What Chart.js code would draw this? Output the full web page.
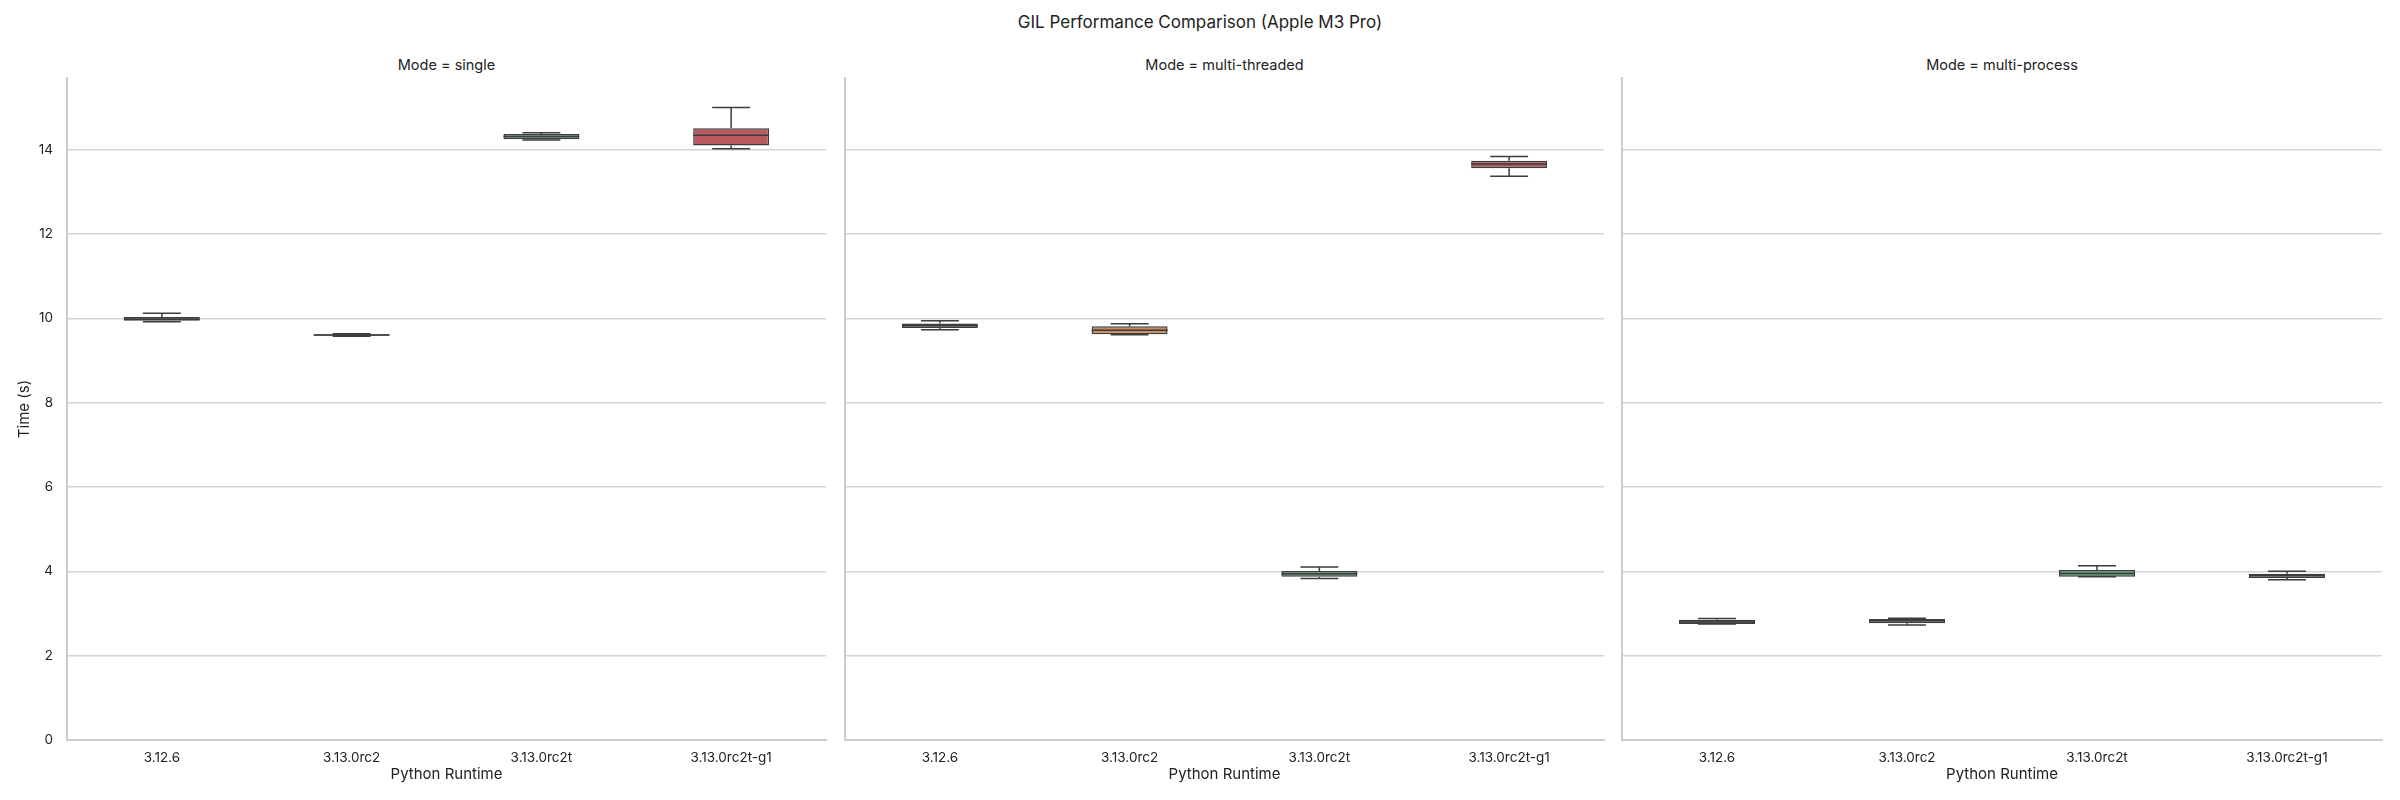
<!DOCTYPE html>
<html>
<head>
<meta charset="utf-8">
<script src="https://cdn.jsdelivr.net/npm/chart.js@4"></script>
<style>
  body { margin: 0; width: 2400px; height: 800px; position: relative; background: #fff; font-family: Inter, "Liberation Sans", sans-serif; color: #222; }
  .panel { position: absolute; top: 0; height: 800px; }
  .label { position: absolute; text-align: center; color: #222; white-space: nowrap; }
</style>
</head>
<body>
<div class="label" style="left:0;top:12px;width:2400px;font-size:17px;">GIL Performance Comparison (Apple M3 Pro)</div>
<div class="label" style="left:67px;top:56px;width:759px;font-size:14.5px;">Mode = single</div>
<div class="label" style="left:845px;top:56px;width:759px;font-size:14.5px;">Mode = multi-threaded</div>
<div class="label" style="left:1622px;top:56px;width:760px;font-size:14.5px;">Mode = multi-process</div>
<div class="panel" style="left:0;width:835px;"><canvas id="single"></canvas></div>
<div class="panel" style="left:835px;width:778px;"><canvas id="threaded"></canvas></div>
<div class="panel" style="left:1612px;width:779px;"><canvas id="process"></canvas></div>
<script>
const runtimes = ['3.12.6', '3.13.0rc2', '3.13.0rc2t', '3.13.0rc2t-g1'];
const yTicks = [0, 2, 4, 6, 8, 10, 12, 14];

// box stats per mode: whisker low, q1, median, q3, whisker high
const singleLow  = [9.92, 9.575, 14.23, 14.02];
const singleQ1   = [9.94, 9.59, 14.25, 14.10];
const singleMed  = [9.98, 9.605, 14.31, 14.34];
const singleQ3   = [10.03, 9.62, 14.37, 14.51];
const singleHigh = [10.12, 9.635, 14.40, 15.00];

const threadedLow  = [9.73, 9.61, 3.83, 13.37];
const threadedQ1   = [9.77, 9.62, 3.87, 13.56];
const threadedMed  = [9.83, 9.72, 3.94, 13.66];
const threadedQ3   = [9.88, 9.81, 4.01, 13.74];
const threadedHigh = [9.94, 9.87, 4.10, 13.84];

const processLow  = [2.75, 2.73, 3.87, 3.80];
const processQ1   = [2.75, 2.77, 3.87, 3.84];
const processMed  = [2.80, 2.83, 3.95, 3.90];
const processQ3   = [2.85, 2.87, 4.03, 3.94];
const processHigh = [2.88, 2.89, 4.13, 4.00];

const singleColors   = ['#4a5068', '#56565c', '#5a9170', '#b95a5f'];
const threadedColors = ['#4c5468', '#c98a5c', '#5a9470', '#a8555c'];
const processColors  = ['#4b5063', '#8b7564', '#5aa072', '#7d5d6d'];

const edge = '#3d3d3d';
const fontFamily = 'Inter, "Liberation Sans", sans-serif';

// whiskers, caps and medians, placed with the chart's own scales
const whiskerPlugin = {
    id: 'whiskers',
    afterDatasetsDraw(chart) {
        const ctx = chart.ctx;
        const y = chart.scales.y;
        const stats = chart.options.plugins.whiskers;
        const meta = chart.getDatasetMeta(0);
        ctx.save();
        ctx.strokeStyle = edge;
        ctx.lineWidth = 1.5;
        meta.data.forEach((bar, i) => {
            const x = bar.x;
            const half = bar.width / 2;
            const capHalf = half / 2;
            const yLow = y.getPixelForValue(stats.low[i]);
            const yQ1 = y.getPixelForValue(stats.q1[i]);
            const yMed = y.getPixelForValue(stats.med[i]);
            const yQ3 = y.getPixelForValue(stats.q3[i]);
            const yHigh = y.getPixelForValue(stats.high[i]);
            ctx.beginPath();
            ctx.moveTo(x, yQ1); ctx.lineTo(x, yLow);
            ctx.moveTo(x, yQ3); ctx.lineTo(x, yHigh);
            ctx.moveTo(x - capHalf, yLow); ctx.lineTo(x + capHalf, yLow);
            ctx.moveTo(x - capHalf, yHigh); ctx.lineTo(x + capHalf, yHigh);
            ctx.moveTo(x - half, yMed); ctx.lineTo(x + half, yMed);
            ctx.stroke();
        });
        ctx.restore();
    }
};

function makePanel(id, low, q1, med, q3, high, colors, showY) {
    const boxes = [];
    for (let i = 0; i < runtimes.length; i++) {
        boxes.push([q1[i], q3[i]]);
    }

    const config = {
        type: 'bar',
        data: {
            labels: runtimes,
            datasets: [
                {
                    data: boxes,
                    backgroundColor: colors,
                    borderColor: edge,
                    borderWidth: 1.5,
                    borderSkipped: false,
                    barPercentage: 0.4,
                    categoryPercentage: 1.0,
                }
            ],
        },
        options: {
            responsive: true,
            maintainAspectRatio: false,
            animation: false,
            layout: { padding: { top: 78, right: 9, bottom: 0, left: 0 } },
            plugins: {
                legend: { display: false },
                tooltip: { enabled: false },
                whiskers: { low: low, q1: q1, med: med, q3: q3, high: high },
            },
            scales: {
                x: {
                    grid: { display: false, drawTicks: false },
                    border: { color: '#cccccc', width: 2 },
                    ticks: { color: '#222', font: { size: 13.5, family: fontFamily }, padding: 10 },
                    title: {
                        display: true, text: 'Python Runtime', color: '#222',
                        font: { size: 15, family: fontFamily }, padding: { top: 0, bottom: 17 }
                    },
                    afterFit: (scale) => { scale.height = 60; },
                },
                y: {
                    min: 0,
                    max: 15.7,
                    afterBuildTicks: (axis) => { axis.ticks = yTicks.map(v => ({ value: v })); },
                    grid: { color: '#d3d3d3', lineWidth: 1.5, drawTicks: false },
                    border: { color: '#cccccc', width: 2 },
                    ticks: { display: showY, color: '#222', font: { size: 13.5, family: fontFamily }, padding: 14 },
                    title: {
                        display: showY, text: 'Time (s)', color: '#222',
                        font: { size: 15, family: fontFamily }, padding: { top: 15, bottom: 0 }
                    },
                    afterFit: (scale) => { scale.width = showY ? 67 : 10; },
                },
            },
        },
        plugins: [whiskerPlugin],
    };

    new Chart(document.getElementById(id), config);
}

makePanel('single', singleLow, singleQ1, singleMed, singleQ3, singleHigh, singleColors, true);
makePanel('threaded', threadedLow, threadedQ1, threadedMed, threadedQ3, threadedHigh, threadedColors, false);
makePanel('process', processLow, processQ1, processMed, processQ3, processHigh, processColors, false);
</script>
</body>
</html>
